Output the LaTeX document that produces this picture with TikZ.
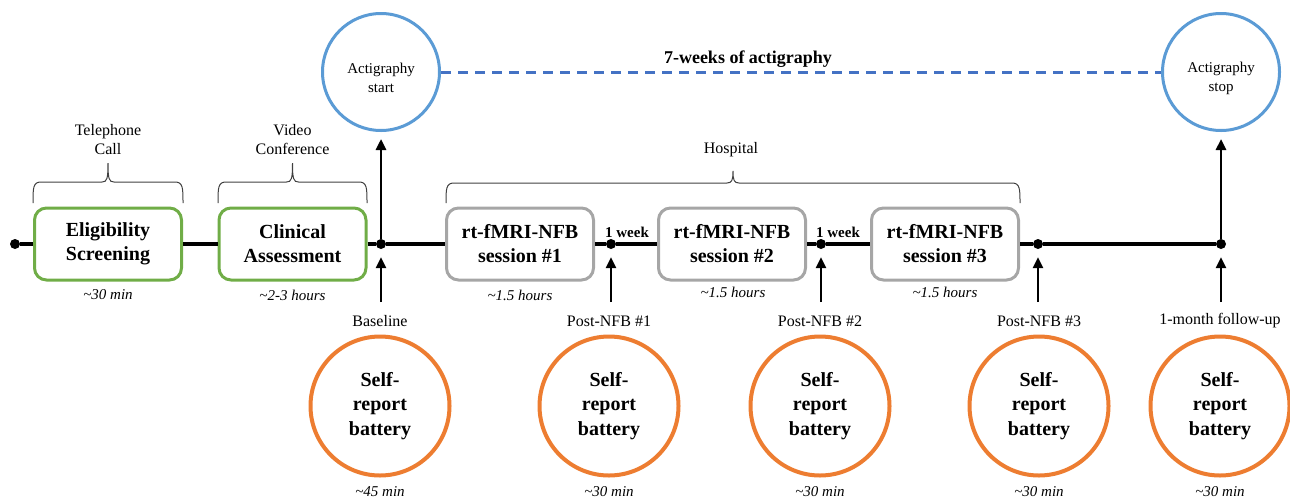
\documentclass[tikz,border=0pt]{standalone}
\usepackage{fontspec}
\setmainfont{Liberation Serif}
\usetikzlibrary{arrows.meta}
\definecolor{stagegreen}{HTML}{70AD47}
\definecolor{sessiongray}{HTML}{A6A6A6}
\definecolor{actblue}{HTML}{5B9BD5}
\definecolor{dashblue}{HTML}{4472C4}
\definecolor{reportorange}{HTML}{ED7D31}
\definecolor{bracegray}{HTML}{404040}

% curly brace: left x, right x, tip y, bar y, foot y
\newcommand\groupbrace[5]{%
  \pgfmathsetmacro\bxm{(#1+#2)/2}%
  \draw[bracegray, line width=1pt]
    (#1,#5) .. controls (#1,{#4+6}) and (#1,#4) .. ({#1+8},#4)
    -- ({\bxm-6},#4) .. controls ({\bxm-1},#4) and (\bxm,{#4-3}) .. (\bxm,#3)
    .. controls (\bxm,{#4-3}) and ({\bxm+1},#4) .. ({\bxm+6},#4)
    -- ({#2-8},#4) .. controls (#2,#4) and (#2,{#4+6}) .. (#2,#5);}

\begin{document}
\begin{tikzpicture}[x=1pt, y=-1pt,
  stagebox/.style={draw=stagegreen, line width=3pt, rounded corners=12pt,
    minimum width=147pt, minimum height=72pt, align=center,
    font=\fontsize{20}{24}\selectfont\bfseries},
  sessionbox/.style={stagebox, draw=sessiongray},
  reportcirc/.style={circle, draw=reportorange, line width=4pt,
    minimum size=139pt, inner sep=0pt, align=center,
    font=\fontsize{20}{24.5}\selectfont\bfseries},
  actcirc/.style={circle, draw=actblue, line width=3pt,
    minimum size=117pt, inner sep=0pt},
  dot/.style={circle, fill=black, minimum size=10pt, inner sep=0pt},
  timeline/.style={line width=3.5pt, black},
  arr/.style={line width=2.6pt, -{Triangle[length=11pt,width=10pt]}},
  note/.style={align=center, font=\fontsize{16}{19}\selectfont},
  acttxt/.style={align=center, font=\fontsize{15}{19}\selectfont},
  dur/.style={font=\fontsize{15}{18}\selectfont\itshape},
  gap/.style={font=\fontsize{15}{18}\selectfont\bfseries}]

\useasboundingbox (0,0) rectangle (1290,499);

% timeline stations
\node[dot] (d0) at (15,244) {};
\node[dot] (d1) at (381,244) {};
\node[dot] (d2) at (611,244) {};
\node[dot] (d3) at (821,244) {};
\node[dot] (d4) at (1038,244) {};
\node[dot] (d5) at (1221,244) {};

% study stages
\node[stagebox] (elig) at (108,244) {Eligibility\\Screening};
\node[stagebox] (clin) at (292.5,244) {Clinical\\Assessment};
\node[sessionbox] (s1) at (520,244) {rt-fMRI-NFB\\session \#1};
\node[sessionbox] (s2) at (732,244) {rt-fMRI-NFB\\session \#2};
\node[sessionbox] (s3) at (945,244) {rt-fMRI-NFB\\session \#3};

% timeline segments
\draw[timeline] (d0) -- (elig);
\draw[timeline] (elig) -- (clin);
\draw[timeline] (clin) -- (d1);
\draw[timeline] (d1) -- (s1);
\draw[timeline] (s1) -- (d2);
\draw[timeline] (d2) -- (s2);
\draw[timeline] (s2) -- (d3);
\draw[timeline] (d3) -- (s3);
\draw[timeline] (s3) -- (d4);
\draw[timeline] (d4) -- (d5);

% durations of the stages
\node[dur] (t0) at (108,295) {\char`\~30 min};
\node[dur] (t1) at (292.5,295) {\char`\~2-3 hours};
\node[dur] (t2) at (520,295) {\char`\~1.5 hours};
\node[dur] (t3) at (733,292) {\char`\~1.5 hours};
\node[dur] (t4) at (945,292) {\char`\~1.5 hours};

\node[gap] (w1) at (627,232) {1 week};
\node[gap] (w2) at (838,232) {1 week};

% settings of the stages
\groupbrace{33}{183}{163}{182}{203}
\groupbrace{218}{367}{163}{182}{203}
\groupbrace{446}{1020}{171}{183}{203}
\node[note] (n1) at (108,140) {Telephone\\Call};
\node[note] (n2) at (292.5,140) {Video\\Conference};
\node[note] (n3) at (731,150) {Hospital};

% actigraphy period
\node[actcirc] (actS) at (381,72) {};
\node[actcirc] (actE) at (1221,72) {};
\node[acttxt] (actSt) at (381,78) {Actigraphy\\start};
\node[acttxt] (actEt) at (1221,78) {Actigraphy\\stop};
\draw[dashblue, line width=3pt, dash pattern=on 10pt off 7pt] (actS) -- (actE);
\node[font=\fontsize{18}{21}\selectfont\bfseries] (weeks) at (748,59) {7-weeks of actigraphy};
\draw[arr, shorten >=7pt] (d1) -- (actS);
\draw[arr, shorten >=7pt] (d5) -- (actE);

% self-report assessments
\foreach \x/\nm/\lab/\t in {380/r1/Baseline/45, 609/r2/Post-NFB \#1/30,
    820/r3/Post-NFB \#2/30, 1039/r4/Post-NFB \#3/30, 1220/r5/1-month follow-up/30} {
  \node[reportcirc] (\nm) at (\x,406) {Self-\\report\\battery};
  \node[note] (\nm l) at (\x,321) {\lab};
  \node[dur] (\nm t) at (\x,492) {\char`\~\t{} min};
}
\coordinate (b1) at (381,302);
\coordinate (b2) at (611,302);
\coordinate (b3) at (821,302);
\coordinate (b4) at (1038,302);
\coordinate (b5) at (1221,302);
\draw[arr, shorten >=8pt] (b1) -- (d1);
\draw[arr, shorten >=8pt] (b2) -- (d2);
\draw[arr, shorten >=8pt] (b3) -- (d3);
\draw[arr, shorten >=8pt] (b4) -- (d4);
\draw[arr, shorten >=8pt] (b5) -- (d5);
\end{tikzpicture}
\end{document}
